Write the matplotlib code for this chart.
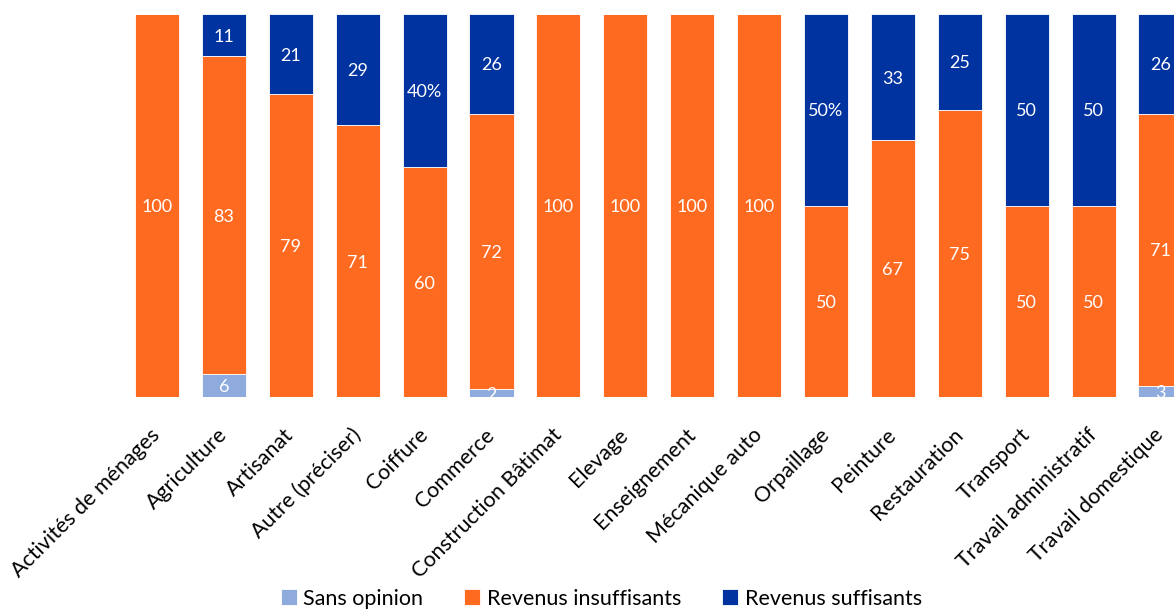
import matplotlib

matplotlib.use("Agg")

import matplotlib.pyplot as plt
import numpy as np

plt.rcParams["font.family"] = ["Lato", "DejaVu Sans"]

CATEGORIES = [
    "Activités de ménages", "Agriculture", "Artisanat", "Autre (préciser)",
    "Coiffure", "Commerce", "Construction Bâtimat", "Elevage", "Enseignement",
    "Mécanique auto", "Orpaillage", "Peinture", "Restauration", "Transport",
    "Travail administratif", "Travail domestique",
]
SANS_OPINION = [0, 6, 0, 0, 0, 2, 0, 0, 0, 0, 0, 0, 0, 0, 0, 3]
INSUFFISANTS = [100, 83, 79, 71, 60, 72, 100, 100, 100, 100, 50, 67, 75, 50, 50, 71]
SUFFISANTS = [0, 11, 21, 29, 40, 26, 0, 0, 0, 0, 50, 33, 25, 50, 50, 26]
# a few labels in the source carry a percent sign
PCT_LABELS = {("suf", 4), ("suf", 10)}

SERIES = [
    ("sans", "Sans opinion", SANS_OPINION, "#8FAADC"),
    ("ins", "Revenus insuffisants", INSUFFISANTS, "#FF6A21"),
    ("suf", "Revenus suffisants", SUFFISANTS, "#0033A0"),
]

fig = plt.figure(figsize=(11.74, 6.11), dpi=100)
ax = fig.add_axes([0, 1 - 397 / 611, 1, (397 - 14) / 611])

x = np.arange(len(CATEGORIES))
bottom = np.zeros(len(CATEGORIES))
for key, name, vals, color in SERIES:
    vals = np.array(vals, dtype=float)
    ax.bar(x, vals, 0.66, bottom=bottom, color=color, edgecolor="white",
           linewidth=0.6, label=name)
    for i, v in enumerate(vals):
        if v <= 0:
            continue
        txt = f"{int(v)}%" if (key, i) in PCT_LABELS else f"{int(v)}"
        ax.text(i, bottom[i] + v / 2 - 0.4, txt, ha="center", va="center",
                color="white", fontsize=13)
    bottom += vals

ax.set_xlim(-157 / 66.9, (1174 - 157) / 66.9)
ax.set_ylim(0, 100)
ax.set_yticks([])
ax.set_xticks(x)
ax.set_xticklabels(CATEGORIES, rotation=45, ha="right", va="center",
                   rotation_mode="anchor", fontsize=15.5)
ax.tick_params(axis="x", length=0, pad=25)
for s in ax.spines.values():
    s.set_visible(False)

ax.legend(loc="lower center", bbox_to_anchor=(0.512, -0.028), ncol=3,
          frameon=False, fontsize=15.5, handlelength=0.75, handleheight=0.75,
          handletextpad=0.3, columnspacing=1.9,
          bbox_transform=fig.transFigure)

fig.savefig("out.png", dpi=100)
